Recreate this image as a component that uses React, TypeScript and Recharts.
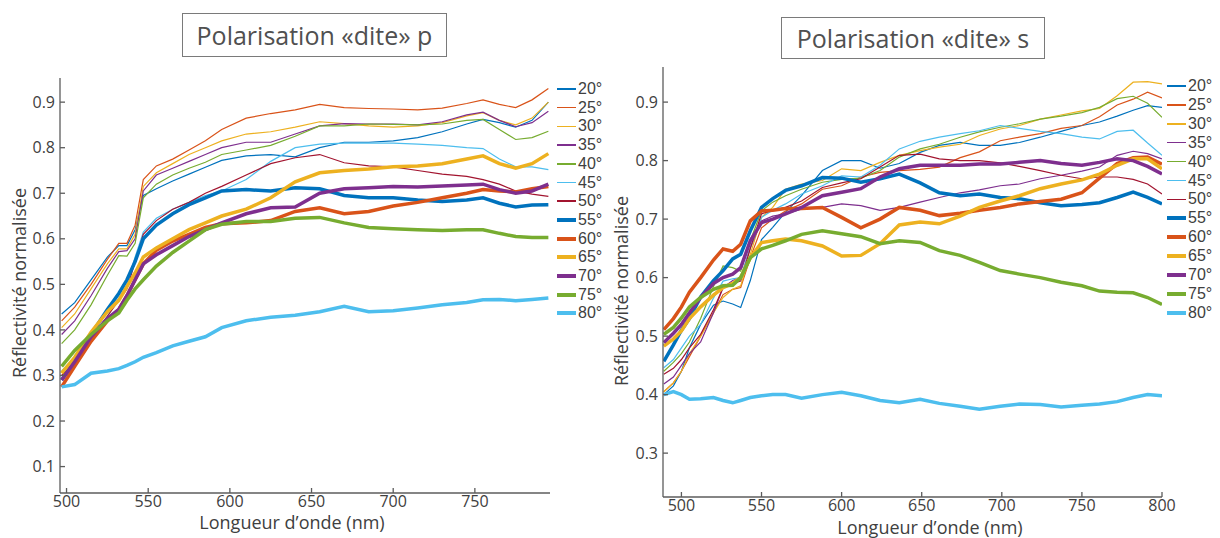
import React from "react";
import { LineChart, Line, XAxis, YAxis } from "recharts";

// angles (legend), colours follow the MATLAB default cycle
const ANGLES = ["20°", "25°", "30°", "35°", "40°", "45°", "50°", "55°", "60°", "65°", "70°", "75°", "80°"];
const COLORS = ["#0072BD", "#D95319", "#EDB120", "#7E2F8E", "#77AC30", "#4DBEEE", "#A2142F", "#0072BD", "#D95319", "#EDB120", "#7E2F8E", "#77AC30", "#4DBEEE"];
const THICK = [false, false, false, false, false, false, false, true, true, true, true, true, true];

// ---- "p" polarisation ----
const P_NM = [497, 505, 515, 525, 532, 537, 542, 547, 555, 565, 575, 585, 595, 610, 625, 640, 655, 670, 685, 700, 715, 730, 745, 755, 765, 775, 785, 795];
const P20 = [0.435, 0.46, 0.51, 0.56, 0.585, 0.585, 0.62, 0.695, 0.71, 0.727, 0.742, 0.757, 0.772, 0.782, 0.785, 0.78, 0.8, 0.812, 0.812, 0.815, 0.822, 0.835, 0.852, 0.862, 0.855, 0.845, 0.86, 0.9];
const P25 = [0.42, 0.45, 0.5, 0.555, 0.59, 0.59, 0.63, 0.73, 0.76, 0.775, 0.795, 0.815, 0.84, 0.865, 0.875, 0.883, 0.895, 0.888, 0.886, 0.885, 0.883, 0.887, 0.897, 0.905, 0.895, 0.888, 0.905, 0.93];
const P30 = [0.405, 0.435, 0.49, 0.545, 0.578, 0.578, 0.61, 0.715, 0.745, 0.765, 0.785, 0.8, 0.815, 0.83, 0.835, 0.845, 0.857, 0.853, 0.848, 0.845, 0.848, 0.855, 0.87, 0.877, 0.86, 0.85, 0.865, 0.9];
const P35 = [0.39, 0.42, 0.475, 0.535, 0.572, 0.574, 0.6, 0.705, 0.74, 0.755, 0.77, 0.785, 0.8, 0.812, 0.812, 0.83, 0.848, 0.853, 0.852, 0.852, 0.85, 0.857, 0.872, 0.878, 0.86, 0.846, 0.855, 0.88];
const P40 = [0.37, 0.4, 0.455, 0.52, 0.563, 0.562, 0.59, 0.69, 0.72, 0.74, 0.755, 0.768, 0.785, 0.795, 0.805, 0.825, 0.848, 0.848, 0.852, 0.851, 0.85, 0.852, 0.86, 0.862, 0.84, 0.818, 0.822, 0.836];
const P45 = [0.31, 0.34, 0.385, 0.43, 0.47, 0.5, 0.56, 0.615, 0.645, 0.665, 0.68, 0.695, 0.705, 0.73, 0.77, 0.8, 0.808, 0.81, 0.81, 0.81, 0.808, 0.805, 0.8, 0.798, 0.775, 0.758, 0.758, 0.752];
const P50 = [0.3, 0.33, 0.38, 0.43, 0.465, 0.49, 0.55, 0.61, 0.64, 0.665, 0.68, 0.7, 0.715, 0.74, 0.765, 0.778, 0.785, 0.767, 0.76, 0.758, 0.75, 0.742, 0.737, 0.73, 0.72, 0.705, 0.698, 0.693];
const P55 = [0.29, 0.33, 0.39, 0.445, 0.48, 0.51, 0.55, 0.6, 0.63, 0.655, 0.675, 0.69, 0.705, 0.708, 0.705, 0.712, 0.71, 0.695, 0.69, 0.69, 0.685, 0.682, 0.685, 0.69, 0.678, 0.67, 0.674, 0.675];
const P60 = [0.275, 0.32, 0.375, 0.42, 0.445, 0.475, 0.51, 0.545, 0.575, 0.595, 0.61, 0.625, 0.633, 0.635, 0.64, 0.66, 0.668, 0.655, 0.66, 0.672, 0.68, 0.69, 0.7, 0.708, 0.705, 0.703, 0.71, 0.715];
const P65 = [0.305, 0.34, 0.395, 0.44, 0.465, 0.495, 0.525, 0.56, 0.58, 0.6, 0.62, 0.635, 0.65, 0.665, 0.69, 0.725, 0.745, 0.75, 0.753, 0.758, 0.76, 0.765, 0.775, 0.782, 0.765, 0.755, 0.765, 0.787];
const P70 = [0.29, 0.33, 0.385, 0.425, 0.445, 0.475, 0.51, 0.545, 0.565, 0.585, 0.605, 0.62, 0.635, 0.655, 0.668, 0.67, 0.7, 0.71, 0.712, 0.715, 0.714, 0.716, 0.718, 0.72, 0.708, 0.7, 0.705, 0.72];
const P75 = [0.32, 0.355, 0.39, 0.42, 0.437, 0.465, 0.49, 0.51, 0.54, 0.57, 0.595, 0.62, 0.632, 0.638, 0.638, 0.645, 0.647, 0.635, 0.625, 0.622, 0.62, 0.618, 0.62, 0.62, 0.612, 0.605, 0.603, 0.603];
const P80 = [0.275, 0.28, 0.305, 0.31, 0.315, 0.322, 0.33, 0.34, 0.35, 0.365, 0.375, 0.385, 0.405, 0.42, 0.428, 0.432, 0.44, 0.452, 0.44, 0.442, 0.448, 0.455, 0.46, 0.466, 0.467, 0.464, 0.467, 0.47];

// ---- "s" polarisation ----
const S_NM = [489, 495, 500, 505, 512, 520, 526, 532, 537, 543, 550, 557, 565, 575, 588, 600, 612, 624, 636, 649, 661, 674, 686, 699, 711, 724, 737, 750, 761, 772, 782, 791, 800];
const S20 = [0.4, 0.415, 0.44, 0.48, 0.52, 0.553, 0.56, 0.555, 0.549, 0.595, 0.665, 0.686, 0.712, 0.74, 0.783, 0.8, 0.8, 0.787, 0.795, 0.814, 0.826, 0.831, 0.826, 0.826, 0.831, 0.84, 0.85, 0.86, 0.866, 0.876, 0.886, 0.894, 0.891];
const S25 = [0.405, 0.42, 0.44, 0.465, 0.5, 0.54, 0.571, 0.58, 0.583, 0.634, 0.685, 0.7, 0.714, 0.726, 0.751, 0.757, 0.772, 0.78, 0.783, 0.785, 0.789, 0.805, 0.815, 0.834, 0.84, 0.846, 0.855, 0.86, 0.875, 0.895, 0.905, 0.917, 0.907];
const S30 = [0.405, 0.42, 0.44, 0.47, 0.5, 0.54, 0.566, 0.58, 0.586, 0.64, 0.703, 0.72, 0.751, 0.76, 0.766, 0.786, 0.783, 0.797, 0.809, 0.817, 0.823, 0.828, 0.843, 0.854, 0.86, 0.871, 0.878, 0.885, 0.889, 0.911, 0.934, 0.935, 0.931];
const S35 = [0.418, 0.43, 0.45, 0.47, 0.49, 0.54, 0.583, 0.595, 0.6, 0.651, 0.697, 0.705, 0.709, 0.717, 0.72, 0.726, 0.723, 0.715, 0.72, 0.729, 0.737, 0.745, 0.75, 0.757, 0.76, 0.769, 0.775, 0.782, 0.789, 0.809, 0.816, 0.812, 0.803];
const S40 = [0.44, 0.455, 0.47, 0.49, 0.53, 0.585, 0.62, 0.617, 0.611, 0.663, 0.714, 0.729, 0.74, 0.751, 0.763, 0.768, 0.77, 0.783, 0.806, 0.82, 0.828, 0.84, 0.849, 0.857, 0.863, 0.871, 0.876, 0.882, 0.891, 0.906, 0.91, 0.898, 0.874];
const S45 = [0.446, 0.46, 0.48, 0.5, 0.52, 0.565, 0.594, 0.598, 0.6, 0.651, 0.703, 0.715, 0.726, 0.743, 0.757, 0.774, 0.772, 0.792, 0.82, 0.833, 0.84, 0.846, 0.851, 0.86, 0.855, 0.85, 0.846, 0.84, 0.837, 0.85, 0.852, 0.83, 0.809];
const S50 = [0.435, 0.445, 0.46, 0.48, 0.503, 0.545, 0.583, 0.59, 0.594, 0.65, 0.709, 0.715, 0.72, 0.731, 0.754, 0.762, 0.769, 0.789, 0.809, 0.811, 0.803, 0.8, 0.8, 0.796, 0.79, 0.783, 0.775, 0.769, 0.772, 0.772, 0.768, 0.76, 0.743];
const S55 = [0.457, 0.485, 0.51, 0.53, 0.567, 0.595, 0.612, 0.632, 0.64, 0.68, 0.72, 0.735, 0.749, 0.757, 0.771, 0.77, 0.763, 0.769, 0.777, 0.762, 0.745, 0.74, 0.743, 0.737, 0.735, 0.728, 0.723, 0.725, 0.728, 0.737, 0.746, 0.737, 0.726];
const S60 = [0.511, 0.53, 0.55, 0.575, 0.6, 0.63, 0.649, 0.645, 0.657, 0.697, 0.714, 0.715, 0.718, 0.718, 0.72, 0.703, 0.685, 0.7, 0.72, 0.715, 0.706, 0.71, 0.715, 0.72, 0.726, 0.73, 0.734, 0.745, 0.77, 0.795, 0.805, 0.806, 0.794];
const S65 = [0.483, 0.495, 0.509, 0.53, 0.55, 0.57, 0.583, 0.59, 0.6, 0.634, 0.66, 0.663, 0.666, 0.663, 0.654, 0.637, 0.638, 0.658, 0.69, 0.695, 0.692, 0.705, 0.72, 0.731, 0.74, 0.752, 0.76, 0.767, 0.777, 0.792, 0.803, 0.803, 0.786];
const S70 = [0.489, 0.505, 0.52, 0.54, 0.566, 0.59, 0.6, 0.606, 0.617, 0.663, 0.694, 0.7, 0.709, 0.72, 0.74, 0.746, 0.752, 0.772, 0.786, 0.792, 0.792, 0.792, 0.794, 0.794, 0.797, 0.8, 0.795, 0.792, 0.797, 0.803, 0.8, 0.79, 0.777];
const S75 = [0.503, 0.515, 0.531, 0.55, 0.566, 0.58, 0.586, 0.587, 0.6, 0.634, 0.649, 0.655, 0.663, 0.674, 0.68, 0.675, 0.67, 0.658, 0.663, 0.66, 0.646, 0.638, 0.626, 0.612, 0.606, 0.6, 0.592, 0.586, 0.577, 0.575, 0.574, 0.566, 0.554];
const S80 = [0.4, 0.405, 0.4, 0.392, 0.393, 0.395, 0.39, 0.386, 0.39, 0.395, 0.398, 0.4, 0.4, 0.394, 0.4, 0.404, 0.398, 0.39, 0.386, 0.392, 0.385, 0.38, 0.375, 0.38, 0.384, 0.383, 0.379, 0.382, 0.384, 0.388, 0.395, 0.4, 0.398];

const P_X_TICKS = [500, 550, 600, 650, 700, 750];
const P_Y_TICKS = [0.1, 0.2, 0.3, 0.4, 0.5, 0.6, 0.7, 0.8, 0.9];
const S_X_TICKS = [500, 550, 600, 650, 700, 750, 800];
const S_Y_TICKS = [0.3, 0.4, 0.5, 0.6, 0.7, 0.8, 0.9];

const P_SERIES = [P20, P25, P30, P35, P40, P45, P50, P55, P60, P65, P70, P75, P80];
const S_SERIES = [S20, S25, S30, S35, S40, S45, S50, S55, S60, S65, S70, S75, S80];

const FONT = "'Open Sans', 'Noto Sans', sans-serif";
// tighter vertical metrics so the stacked legend entries do not collide
const LEGEND_FONT = "'Liberation Sans', Arial, sans-serif";
const AXIS = "#5c5c5c";
const TEXT = "#404040";

function toRows(nm: number[], series: number[][]) {
  return nm.map((x, i) => {
    const row: Record<string, number> = { nm: x };
    series.forEach((s, k) => {
      row["a" + k] = s[i];
    });
    return row;
  });
}

interface PanelProps {
  left: number;
  width: number;
  rows: Record<string, number>[];
  margin: { top: number; right: number; bottom: number; left: number };
  yWidth: number;
  xDomain: [number, number];
  yDomain: [number, number];
  xTicks: number[];
  yTicks: number[];
}

function Panel({ left, width, rows, margin, yWidth, xDomain, yDomain, xTicks, yTicks }: PanelProps) {
  const tick = { fill: TEXT, fontSize: 16, fontFamily: FONT };
  return (
    <div style={{ position: "absolute", left, top: 0 }}>
      <LineChart width={width} height={538} data={rows} margin={margin}>
        <XAxis
          dataKey="nm"
          type="number"
          domain={xDomain}
          ticks={xTicks}
          allowDataOverflow
          height={30}
          tick={tick}
          tickSize={-5}
          tickMargin={8}
          stroke={AXIS}
          strokeWidth={1.3}
        />
        <YAxis
          type="number"
          domain={yDomain}
          ticks={yTicks}
          allowDataOverflow
          width={yWidth}
          tick={tick}
          tickSize={-5}
          tickMargin={10}
          tickFormatter={(v: number) => v.toFixed(1)}
          stroke={AXIS}
          strokeWidth={1.3}
        />
        {ANGLES.map((a, k) => (
          <Line
            key={a}
            dataKey={"a" + k}
            name={a}
            type="linear"
            stroke={COLORS[k]}
            strokeWidth={THICK[k] ? 3.5 : 1.2}
            dot={false}
            isAnimationActive={false}
          />
        ))}
      </LineChart>
    </div>
  );
}

function Legend({ left, top, step }: { left: number; top: number; step: number }) {
  return (
    <div style={{ position: "absolute", left, top }}>
      {ANGLES.map((a, k) => (
        <div
          key={a}
          style={{ position: "absolute", left: 0, top: k * step - 8, height: 16, display: "flex", alignItems: "center", whiteSpace: "nowrap" }}
        >
          <div style={{ width: 19, height: THICK[k] ? 4 : 1.5, background: COLORS[k] }} />
          <span style={{ marginLeft: 2, fontFamily: LEGEND_FONT, fontSize: 16, color: TEXT, lineHeight: "16px", height: 16 }}>{a}</span>
        </div>
      ))}
    </div>
  );
}

function Title({ text, left, top, width, height }: { text: string; left: number; top: number; width: number; height: number }) {
  return (
    <div
      style={{
        position: "absolute",
        left,
        top,
        width,
        height,
        boxSizing: "border-box",
        border: "1.3px solid #7a7a7a",
        display: "flex",
        alignItems: "center",
        justifyContent: "center",
        fontFamily: FONT,
        fontSize: 25,
        color: "#505050",
        whiteSpace: "nowrap",
      }}
    >
      {text}
    </div>
  );
}

function Label({ text, cx, cy, rotate }: { text: string; cx: number; cy: number; rotate?: boolean }) {
  return (
    <div
      style={{
        position: "absolute",
        left: cx,
        top: cy,
        transform: `translate(-50%, -50%)${rotate ? " rotate(-90deg)" : ""}`,
        fontFamily: FONT,
        fontSize: 18,
        color: TEXT,
        whiteSpace: "nowrap",
      }}
    >
      {text}
    </div>
  );
}

export default function App() {
  const pRows = toRows(P_NM, P_SERIES);
  const sRows = toRows(S_NM, S_SERIES);
  return (
    <div style={{ position: "absolute", left: 0, top: 0, width: 1220, height: 538, background: "#fff", overflow: "hidden" }}>
      <Panel
        left={0}
        width={600}
        rows={pRows}
        margin={{ top: 78, right: 50, bottom: 15, left: 0 }}
        yWidth={60}
        xDomain={[496, 796]}
        yDomain={[0.042, 0.953]}
        xTicks={P_X_TICKS}
        yTicks={P_Y_TICKS}
      />
      <Panel
        left={600}
        width={620}
        rows={sRows}
        margin={{ top: 67, right: 58, bottom: 11, left: 0 }}
        yWidth={63}
        xDomain={[488.5, 800]}
        yDomain={[0.225, 0.96]}
        xTicks={S_X_TICKS}
        yTicks={S_Y_TICKS}
      />
      <Title text="Polarisation «dite» p" left={182} top={13} width={265} height={44} />
      <Title text="Polarisation «dite» s" left={781} top={17} width={264} height={42} />
      <Legend left={557} top={89} step={18.7} />
      <Legend left={1167} top={86} step={18.9} />
      <Label text="Réflectivité normalisée" cx={19} cy={283} rotate />
      <Label text="Réflectivité normalisée" cx={621} cy={291} rotate />
      <Label text="Longueur d’onde (nm)" cx={292} cy={522} />
      <Label text="Longueur d’onde (nm)" cx={930} cy={527} />
    </div>
  );
}
